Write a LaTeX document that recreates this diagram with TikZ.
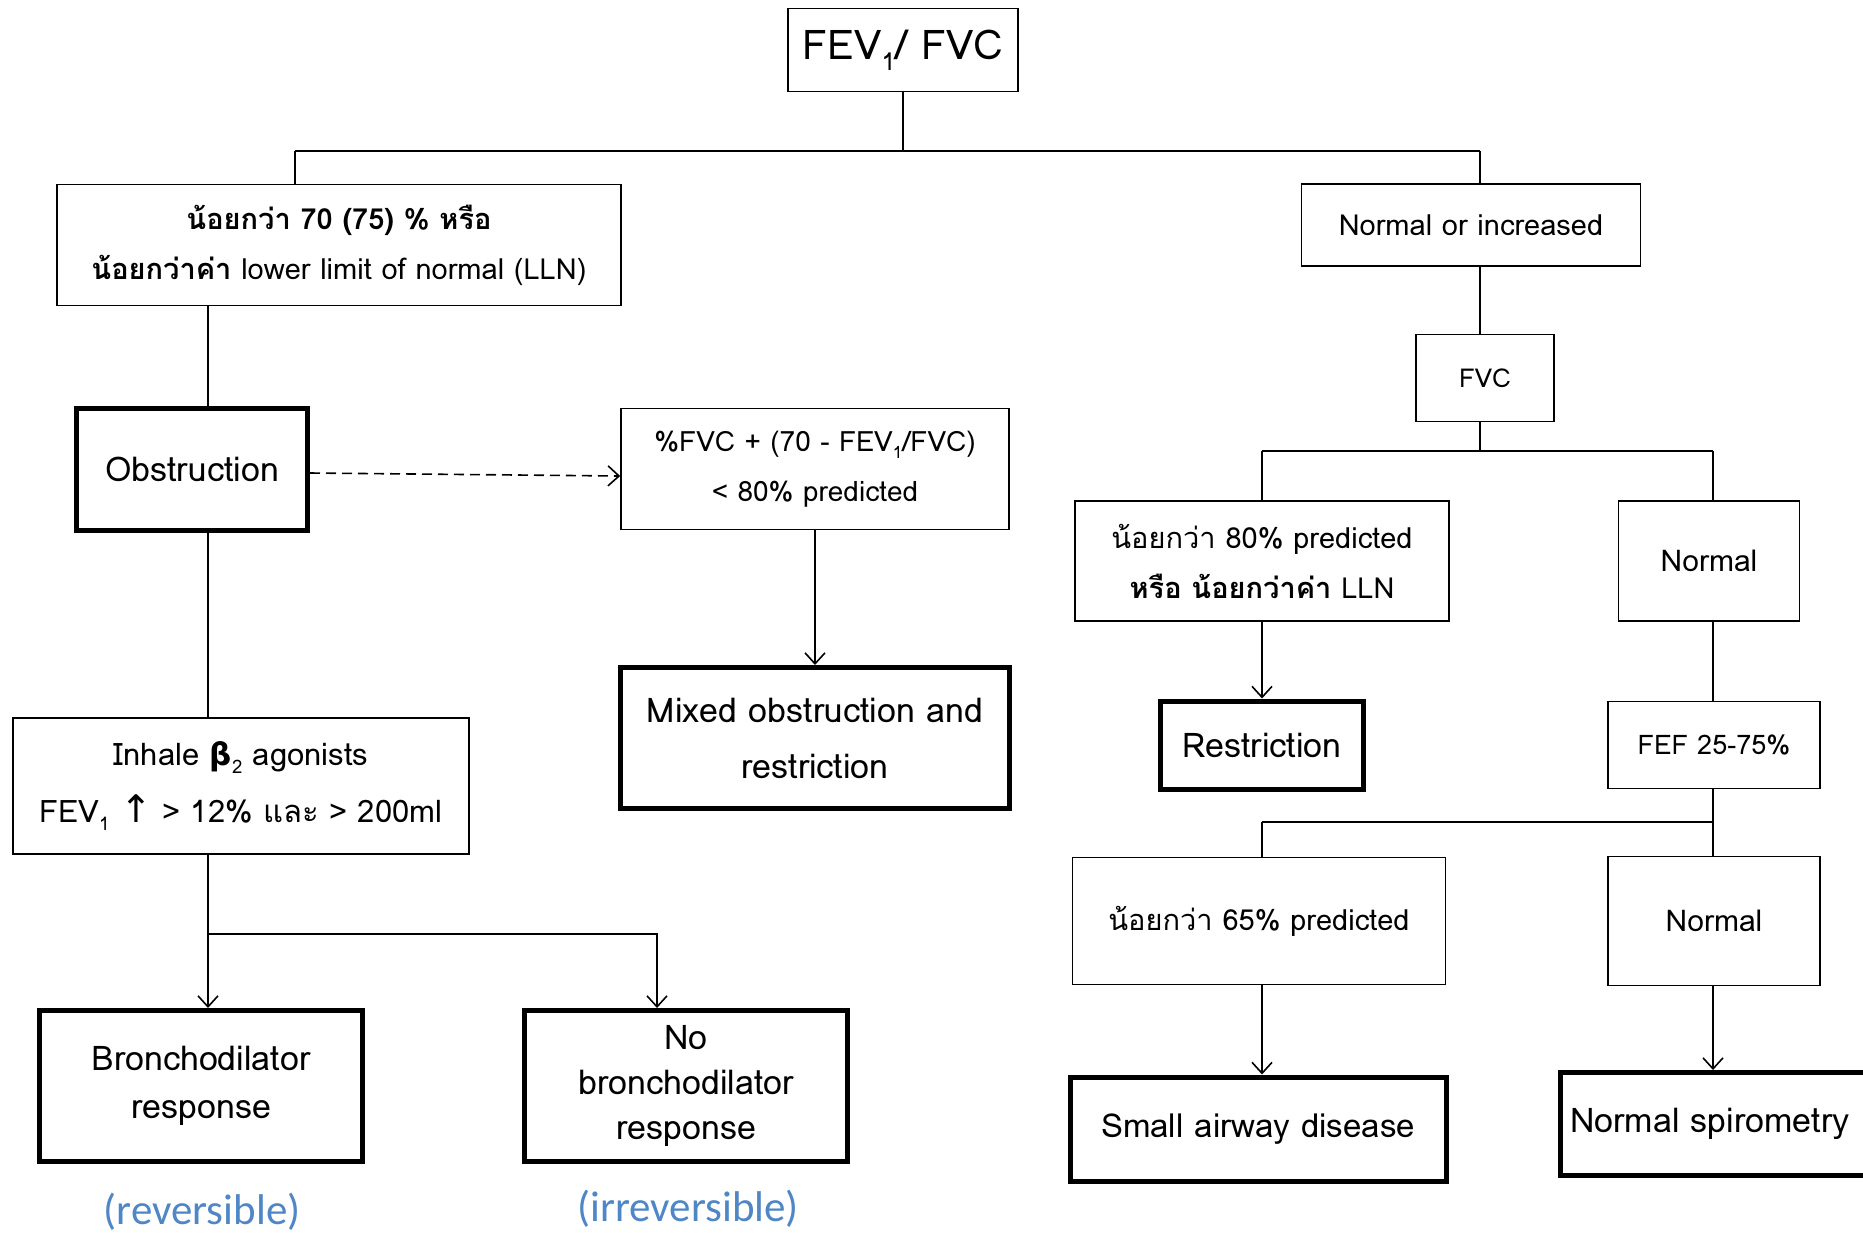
\documentclass[tikz,border=0pt]{standalone}
\usepackage{fontspec}
\setmainfont{Loma}[Script=Thai]
\newfontfamily\symfont{DejaVu Sans}
\newfontfamily\labelfont{Carlito}
\usepackage{tikz}
\usetikzlibrary{arrows.meta}
\definecolor{revblue}{RGB}{79,134,198}
\newcommand{\sbs}[1]{\raisebox{-0.5ex}{\scalebox{0.6}{#1}}}

\begin{document}
\begin{tikzpicture}[x=1pt,y=-1pt,
    box/.style={draw,line width=1.6pt,inner sep=0pt,align=center,font=\fontsize{29}{50}\selectfont},
    bbox/.style={box,line width=5pt,font=\fontsize{34}{56}\selectfont},
    link/.style={line width=1.6pt},
    note/.style={text=revblue,font=\labelfont\fontsize{43}{48}\selectfont},
    >={Straight Barb[length=11pt,width=20pt]}]
  \useasboundingbox (0,0) rectangle (1863,1232);
  % top
  \node[box,minimum width=230pt,minimum height=83pt,font=\fontsize{41}{50}\selectfont] (top) at (903,50) {FEV\sbs{1}/ FVC};
  % left branch
  \node[box,minimum width=564pt,minimum height=121pt] (lt70) at (339,245)
    {\textbf{น้อยกว่า 70 (75) \% หรือ}\\ \textbf{น้อยกว่าค่า} lower limit of normal (LLN)};
  \node[bbox,minimum width=231pt,minimum height=122pt] (obs) at (192,469) {Obstruction};
  \node[box,minimum width=388pt,minimum height=121pt,font=\fontsize{28}{50}\selectfont] (calc) at (815,469)
    {\%FVC + (70 - FEV\sbs{1}/FVC)\\ < 80\% predicted};
  \node[bbox,minimum width=389pt,minimum height=141pt] (mixed) at (815,738)
    {Mixed obstruction and\\ restriction};
  \node[box,minimum width=456pt,minimum height=136pt,font=\fontsize{31}{57}\selectfont] (inhale) at (241,786)
    {Inhale {\symfont\bfseries β}\sbs{2} agonists\\ FEV\sbs{1} {\symfont\fontsize{38}{38}\selectfont ↑} > 12\% และ > 200ml};
  \node[bbox,minimum width=323pt,minimum height=151pt,font=\fontsize{34}{48}\selectfont] (bd) at (201,1086)
    {Bronchodilator\\ response};
  \node[bbox,minimum width=323pt,minimum height=151pt,font=\fontsize{34}{45}\selectfont] (nobd) at (686,1086)
    {No\\ bronchodilator\\ response};
  \node[note] (rev) at (202,1212) {(reversible)};
  \node[note] (irrev) at (688,1209) {(irreversible)};
  % right branch
  \node[box,minimum width=339pt,minimum height=82pt] (noi) at (1471,225) {Normal or increased};
  \node[box,minimum width=138pt,minimum height=87pt,font=\fontsize{26}{50}\selectfont] (fvc) at (1485,378) {FVC};
  \node[box,minimum width=374pt,minimum height=120pt] (lt80) at (1262,561)
    {น้อยกว่า 80\% predicted\\ \textbf{หรือ น้อยกว่าค่า} LLN};
  \node[box,minimum width=181pt,minimum height=120pt,font=\fontsize{30}{50}\selectfont] (norm1) at (1709,561) {Normal};
  \node[bbox,minimum width=203pt,minimum height=88pt] (restr) at (1262,745) {Restriction};
  \node[box,minimum width=212pt,minimum height=87pt,font=\fontsize{27}{50}\selectfont] (fef) at (1714,745) {FEF 25-75\%};
  \node[box,minimum width=373pt,minimum height=127pt] (lt65) at (1259,921) {น้อยกว่า 65\% predicted};
  \node[box,minimum width=212pt,minimum height=129pt,font=\fontsize{30}{50}\selectfont] (norm2) at (1714,921) {Normal};
  \node[bbox,minimum width=376pt,minimum height=104pt,font=\fontsize{33}{56}\selectfont] (small) at (1258,1129) {Small airway disease};
  \node[bbox,minimum width=320pt,minimum height=103pt,text width=300pt,align=left] (nspiro) at (1720,1124)
    {Normal spirometry};
  % split points
  \coordinate (s0) at (903,151);
  \coordinate (sL) at (295,151);
  \coordinate (sR) at (1480,151);
  \coordinate (xl) at (208,0);
  \coordinate (xn) at (657,0);
  \coordinate (s1) at (208,934);
  \coordinate (s2) at (1480,451);
  \coordinate (xa) at (1262,0);
  \coordinate (xb) at (1713,0);
  \coordinate (s3) at (1713,822);
  % connectors
  \draw[link] (top.south) -- (s0);
  \draw[link] (sL) -- (sR);
  \draw[link] (sL) -- (lt70.north -| sL);
  \draw[link] (sR) -- (noi.north -| sR);
  \draw[link] (lt70.south -| xl) -- (obs.north -| xl);
  \draw[link] (obs.south -| xl) -- (inhale.north -| xl);
  \draw[link,dashed,dash pattern=on 10pt off 6pt,->] ([yshift=-4pt]obs.east) -- ([yshift=-7pt]calc.west);
  \draw[link,->] (calc.south) -- (mixed.north);
  \draw[link] (inhale.south -| xl) -- (s1);
  \draw[link,->] (s1) -- (bd.north -| xl);
  \draw[link,->] (s1) -| (nobd.north -| xn);
  \draw[link] (noi.south -| sR) -- (fvc.north -| sR);
  \draw[link] (fvc.south -| sR) -- (s2);
  \draw[link] (s2 -| xa) -- (s2 -| xb);
  \draw[link] (s2 -| xa) -- (lt80.north -| xa);
  \draw[link] (s2 -| xb) -- (norm1.north -| xb);
  \draw[link,->] (lt80.south -| xa) -- (restr.north -| xa);
  \draw[link] (norm1.south -| xb) -- (fef.north -| xb);
  \draw[link] (fef.south -| xb) -- (s3);
  \draw[link] (s3 -| xa) -- (s3);
  \draw[link] (s3 -| xa) -- (lt65.north -| xa);
  \draw[link] (s3) -- (norm2.north -| xb);
  \draw[link,->] (lt65.south -| xa) -- (small.north -| xa);
  \draw[link,->] (norm2.south -| xb) -- (nspiro.north -| xb);
\end{tikzpicture}
\end{document}
